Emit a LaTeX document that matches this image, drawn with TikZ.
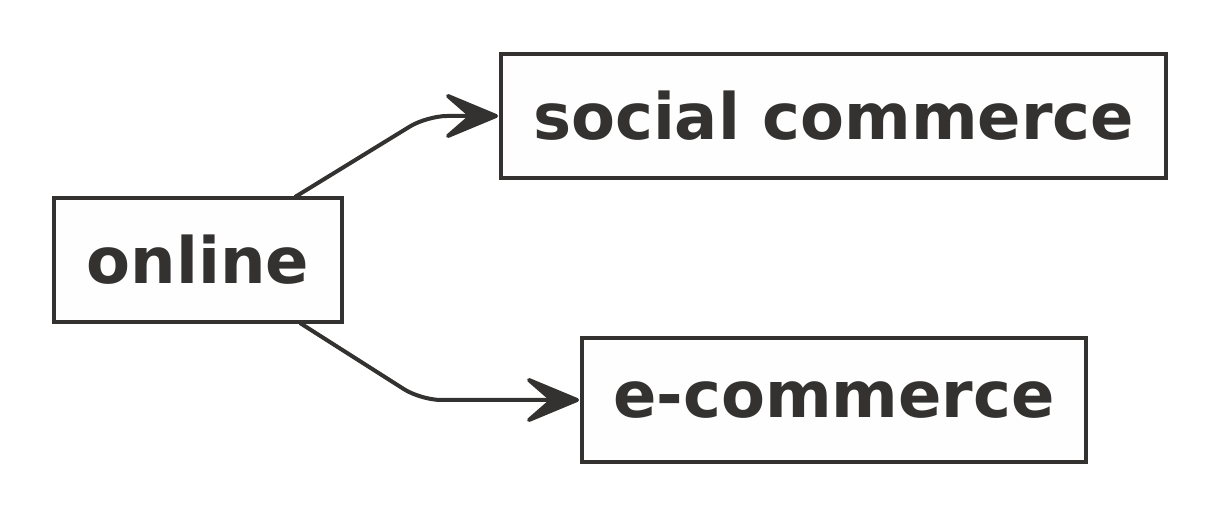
\documentclass[tikz,border=0pt]{standalone}
\usepackage{fontspec}
\setmainfont{DejaVu Sans}
\usetikzlibrary{calc}
\definecolor{ink}{HTML}{333230}
\definecolor{boxfill}{HTML}{FEFEFE}
\tikzset{
  box/.style={draw=ink, fill=boxfill, line width=2pt, inner sep=0pt,
    minimum height=62pt, text=ink, font=\fontsize{32}{38}\selectfont\bfseries},
  link/.style={draw=ink, line width=2pt, rounded corners=10pt},
  headtip/.style={draw=ink, fill=ink, line width=2pt, line join=round}
}
\begin{document}
\begin{tikzpicture}[x=0.5pt, y=-0.5pt]
\useasboundingbox (0,0) rectangle (1216,512);
\node[box, minimum width=144pt] (online) at (198,260) {online};
\node[box, minimum width=332.5pt] (social) at (833.5,116) {social commerce};
\node[box, minimum width=252pt] (ecom) at (834,400) {e-commerce};
\coordinate (s1) at (295,197);
\coordinate (c1) at (427,116);
\coordinate (s2) at (300,323);
\coordinate (c2) at (421,400);
\draw[link] (s1) -- (c1) -- ($(social.west)+(-20,0)$);
\draw[link] (s2) -- (c2) -- ($(ecom.west)+(-20,0)$);
\path[headtip] ($(social.west)+(-3,0)$) -- ++(-48,-20) -- ++(23,20) -- ++(-23,20) -- cycle;
\path[headtip] ($(ecom.west)+(-3,0)$) -- ++(-48,-20) -- ++(23,20) -- ++(-23,20) -- cycle;
\end{tikzpicture}
\end{document}
